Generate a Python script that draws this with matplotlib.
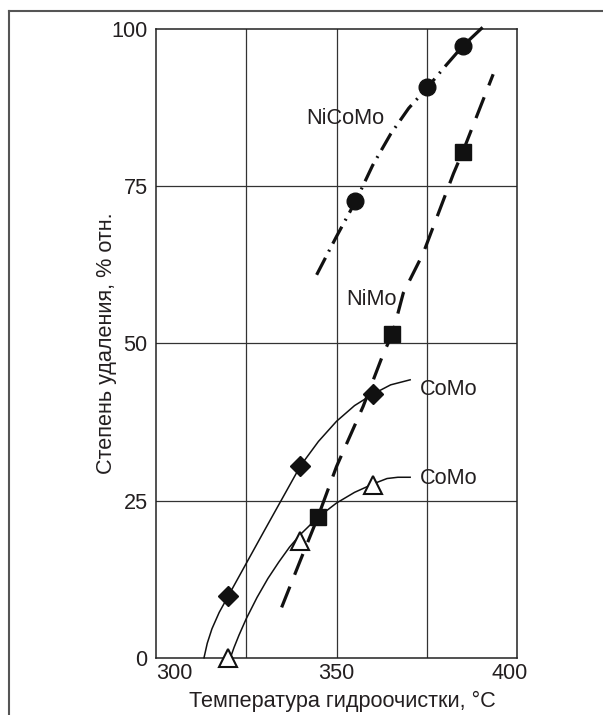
import numpy as np
import matplotlib
matplotlib.use('Agg')
import matplotlib.pyplot as plt
from matplotlib.lines import Line2D
from matplotlib.transforms import ScaledTranslation

plt.rcParams['font.family'] = ['Liberation Sans', 'DejaVu Sans']

# measured points (markers)
comoX = [320, 340, 360]
comoY = [9.8, 30.5, 41.9]
como2X = [320, 340, 360]
como2Y = [0.0, 18.5, 27.5]
nimoX = [345, 365.5, 385]
nimoY = [22.3, 51.5, 80.5]
nicomoX = [355, 375, 385]
nicomoY = [72.6, 90.7, 97.3]

# hand-drawn curves
comoCurveX = [313.3, 314.2, 315.5, 317.5, 320, 330, 340, 345, 350, 355, 360, 365, 370.4]
comoCurveY = [0.0, 2.3, 4.6, 7.2, 9.8, 20.2, 30.5, 34.4, 37.6, 40.1, 41.9, 43.4, 44.2]
como2CurveX = [320.8, 321.6, 323, 325, 328, 331, 334, 337, 340, 344.8, 350, 355, 360.4,
               364, 367, 370.4]
como2CurveY = [0.3, 1.6, 3.6, 6.2, 9.6, 12.6, 15.2, 17.6, 19.6, 22.3, 24.6, 26.3, 27.7,
               28.5, 28.7, 28.7]
nimoCurveX = [334.8, 340, 344.8, 350, 357.4, 363, 365.5, 368.5, 374, 382.4, 385, 393.4]
nimoCurveY = [8.0, 15.5, 22.3, 30.4, 40.0, 48.4, 51.5, 58.0, 64.3, 77.0, 80.5, 92.8]
nicomoCurveX = [344.5, 350, 355.3, 360, 365, 370, 375.2, 380, 385, 391.1]
nicomoCurveY = [60.9, 67.0, 72.6, 78.3, 83.3, 87.4, 90.7, 94.0, 97.3, 100.6]

xTicks = [300, 350, 400]
yTicks = [0, 25, 50, 75, 100]

textCol = '#231f20'
fs = 15.6

fig = plt.figure(figsize=[6.03, 7.15], dpi=100)
ax = fig.add_axes([156/603, 1 - 657.7/715, 361/603, 628.7/715])

# outer frame (only left and top edges visible)
fig.add_artist(Line2D([9/603, 9/603], [0, 1 - 10.7/715], transform=fig.transFigure,
                      color='#555555', lw=1.5))
fig.add_artist(Line2D([9/603, 1], [1 - 10.7/715, 1 - 10.7/715], transform=fig.transFigure,
                      color='#555555', lw=1.5))

ax.set_xlim(300, 400)
ax.set_ylim(0, 100)
for x in [325, 350, 375]:
    ax.axvline(x, color='#333333', lw=0.9, zorder=1)
for y in [25, 50, 75]:
    ax.axhline(y, color='#333333', lw=0.9, zorder=1)
for s in ax.spines.values():
    s.set_linewidth(1.1)
    s.set_color('#222222')

ax.plot(comoCurveX, comoCurveY, color='#111111', lw=1.1, zorder=3, clip_on=False,
        solid_joinstyle='round')
ax.plot(como2CurveX, como2CurveY, color='#111111', lw=1.1, zorder=3, clip_on=False,
        solid_joinstyle='round')
ax.plot(nimoCurveX, nimoCurveY, color='#111111', lw=2.3, dashes=(7, 4), zorder=3,
        clip_on=False)
ax.plot(nicomoCurveX, nicomoCurveY, color='#111111', lw=2.3, dashes=(6, 2.2, 0.6, 2.2),
        zorder=3, clip_on=False)

ax.plot(comoX, comoY, 'D', color='#111111', ms=10, zorder=5, clip_on=False)
ax.plot(como2X, como2Y, '^', mfc='white', mec='#111111', mew=1.5, ms=13.5, zorder=5,
        clip_on=False)
ax.plot(nimoX, nimoY, 's', color='#111111', ms=11.5, zorder=5, clip_on=False)
ax.plot(nicomoX, nicomoY, 'o', color='#111111', ms=12, zorder=5, clip_on=False)

ax.text(341.6, 85.8, 'NiCoMo', fontsize=fs, color=textCol, va='center', ha='left', zorder=4)
ax.text(352.8, 56.9, 'NiMo', fontsize=fs, color=textCol, va='center', ha='left', zorder=4)
ax.text(373.1, 42.6, 'CoMo', fontsize=fs, color=textCol, va='center', ha='left', zorder=4)
ax.text(373.1, 28.5, 'CoMo', fontsize=fs, color=textCol, va='center', ha='left', zorder=4)

ax.set_xticks(xTicks)
ax.set_yticks(yTicks)
ax.tick_params(length=0, labelsize=fs, labelcolor=textCol, pad=6)
ax.tick_params(axis='x', pad=4)
xl = ax.get_xticklabels()
xl[0].set_ha('left')
xl[2].set_transform(xl[2].get_transform() + ScaledTranslation(-0.07, 0, fig.dpi_scale_trans))
ax.set_xlabel('Температура гидроочистки, °C', fontsize=fs, color=textCol, labelpad=5)
ax.xaxis.label.set_x(0.515)
ax.set_ylabel('Степень удаления, % отн.', fontsize=fs, color=textCol, labelpad=-4)

plt.savefig('out.png', dpi=100)
